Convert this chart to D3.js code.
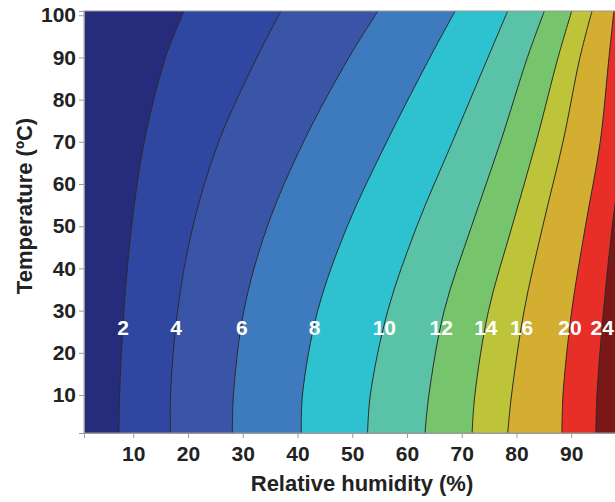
<!DOCTYPE html>
<meta charset="utf-8">
<head>
<style>
  body { margin: 0; background: #fff; }
  svg { display: block; }
  .tick text {
    font-family: "Liberation Sans", Arial, sans-serif;
    font-weight: bold;
    font-size: 21px;
    fill: #222;
  }
  .axis-title {
    font-family: "Liberation Sans", Arial, sans-serif;
    font-weight: bold;
    font-size: 22px;
    fill: #222;
  }
  .clabel {
    font-family: "Liberation Sans", Arial, sans-serif;
    font-weight: bold;
    font-size: 21px;
    fill: #fff;
  }
</style>
<script src="https://d3js.org/d3.v7.min.js"></script>
</head>
<body>
<svg width="615" height="502"></svg>
<script>
// temperatures (ºC) at which each contour's humidity was read
var temps = [1, 10, 30, 50, 70, 90, 101];

// relative humidity (%) of each contour line, one value per temperature
var rh02 = [7.4, 7.5, 8.3, 9.7, 12.0, 15.9, 19.3];
var rh04 = [16.8, 16.8, 18.1, 20.9, 25.6, 32.6, 37.0];
var rh06 = [28.1, 28.3, 30.2, 34.5, 41.1, 49.4, 54.7];
var rh08 = [40.7, 40.9, 43.7, 49.1, 56.3, 64.2, 68.8];
var rh10 = [52.8, 53.3, 56.5, 61.8, 68.3, 74.8, 78.4];
var rh12 = [63.3, 64.0, 66.8, 71.8, 77.1, 82.0, 85.1];
var rh14 = [71.9, 72.4, 74.9, 79.2, 83.6, 87.6, 90.1];
var rh16 = [78.4, 79.1, 81.4, 84.8, 88.5, 91.6, 93.8];
var rh20 = [88.3, 88.5, 90.1, 92.6, 95.3, 96.9, 97.8];
var rh24 = [94.5, 94.7, 95.9, 97.5, 99.5, 101.5, 103];

var levels = [2, 4, 6, 8, 10, 12, 14, 16, 20, 24];
var contourLines = [rh02, rh04, rh06, rh08, rh10, rh12, rh14, rh16, rh20, rh24];
// fill of the band below the first level, then of the band above each level
var bandColors = ["#262b7c", "#2f47a0", "#3a54a7", "#3d7bbe", "#2ec1cf", "#5ac2a6",
                  "#76c46b", "#bdc43a", "#d4ae30", "#e82f27", "#7a1818"];

var xTicks = [10, 20, 30, 40, 50, 60, 70, 80, 90];
var yTicks = [10, 20, 30, 40, 50, 60, 70, 80, 90, 100];

var svg = d3.select("svg");
var margin = {top: 11, left: 84, bottom: 69};
var width = 615, height = 502;

var x = d3.scaleLinear().domain([1, 98]).range([margin.left, width]);
var y = d3.scaleLinear().domain([1, 101]).range([height - margin.bottom, margin.top]);

svg.append("clipPath").attr("id", "plot-clip")
  .append("rect")
    .attr("x", x(1)).attr("y", y(101))
    .attr("width", x(98) - x(1)).attr("height", y(1) - y(101));

var plot = svg.append("g").attr("clip-path", "url(#plot-clip)");

// lowest band
plot.append("rect")
    .attr("x", x(1)).attr("y", y(101))
    .attr("width", x(98) - x(1)).attr("height", y(1) - y(101))
    .attr("fill", bandColors[0]);

var curve = d3.curveCatmullRom.alpha(0.5);

// each level fills everything to the right of its contour
var area = d3.area()
    .y(function(d) { return y(d[1]); })
    .x0(function(d) { return x(d[0]); })
    .x1(x(110))
    .curve(curve);

var line = d3.line()
    .x(function(d) { return x(d[0]); })
    .y(function(d) { return y(d[1]); })
    .curve(curve);

contourLines.forEach(function(rh, i) {
  var pts = rh.map(function(v, j) { return [v, temps[j]]; });
  plot.append("path")
      .attr("d", area(pts))
      .attr("fill", bandColors[i + 1]);
});

contourLines.forEach(function(rh) {
  var pts = rh.map(function(v, j) { return [v, temps[j]]; });
  plot.append("path")
      .attr("d", line(pts))
      .attr("fill", "none")
      .attr("stroke", "#2b2b2b")
      .attr("stroke-width", 1);
});

// contour labels
var labelT = 26;
contourLines.forEach(function(rh, i) {
  var at = d3.scaleLinear().domain(temps).range(rh)(labelT);
  plot.append("text")
      .attr("class", "clabel")
      .attr("x", x(at))
      .attr("y", y(labelT))
      .attr("text-anchor", "middle")
      .attr("dominant-baseline", "central")
      .text(levels[i]);
});

// frame
svg.append("rect")
    .attr("x", x(1)).attr("y", y(101))
    .attr("width", x(98) - x(1) + 2).attr("height", y(1) - y(101))
    .attr("fill", "none")
    .attr("stroke", "#9a9a9a")
    .attr("stroke-width", 1);

var xAxis = svg.append("g")
    .attr("transform", "translate(0," + y(1) + ")")
    .call(d3.axisBottom(x).tickValues(xTicks).tickSize(5).tickPadding(8));
var yAxis = svg.append("g")
    .attr("transform", "translate(" + x(1) + ",0)")
    .call(d3.axisLeft(y).tickValues(yTicks).tickSize(5).tickPadding(3));
[xAxis, yAxis].forEach(function(a) {
  a.select(".domain").attr("stroke", "#9a9a9a");
  a.selectAll(".tick line").attr("stroke", "#9a9a9a");
});

svg.append("text")
    .attr("class", "axis-title")
    .attr("x", 362).attr("y", 491)
    .attr("text-anchor", "middle")
    .text("Relative humidity (%)");

svg.append("text")
    .attr("class", "axis-title")
    .attr("transform", "translate(32,206) rotate(-90)")
    .attr("text-anchor", "middle")
    .text("Temperature (ºC)");
</script>
</body>
